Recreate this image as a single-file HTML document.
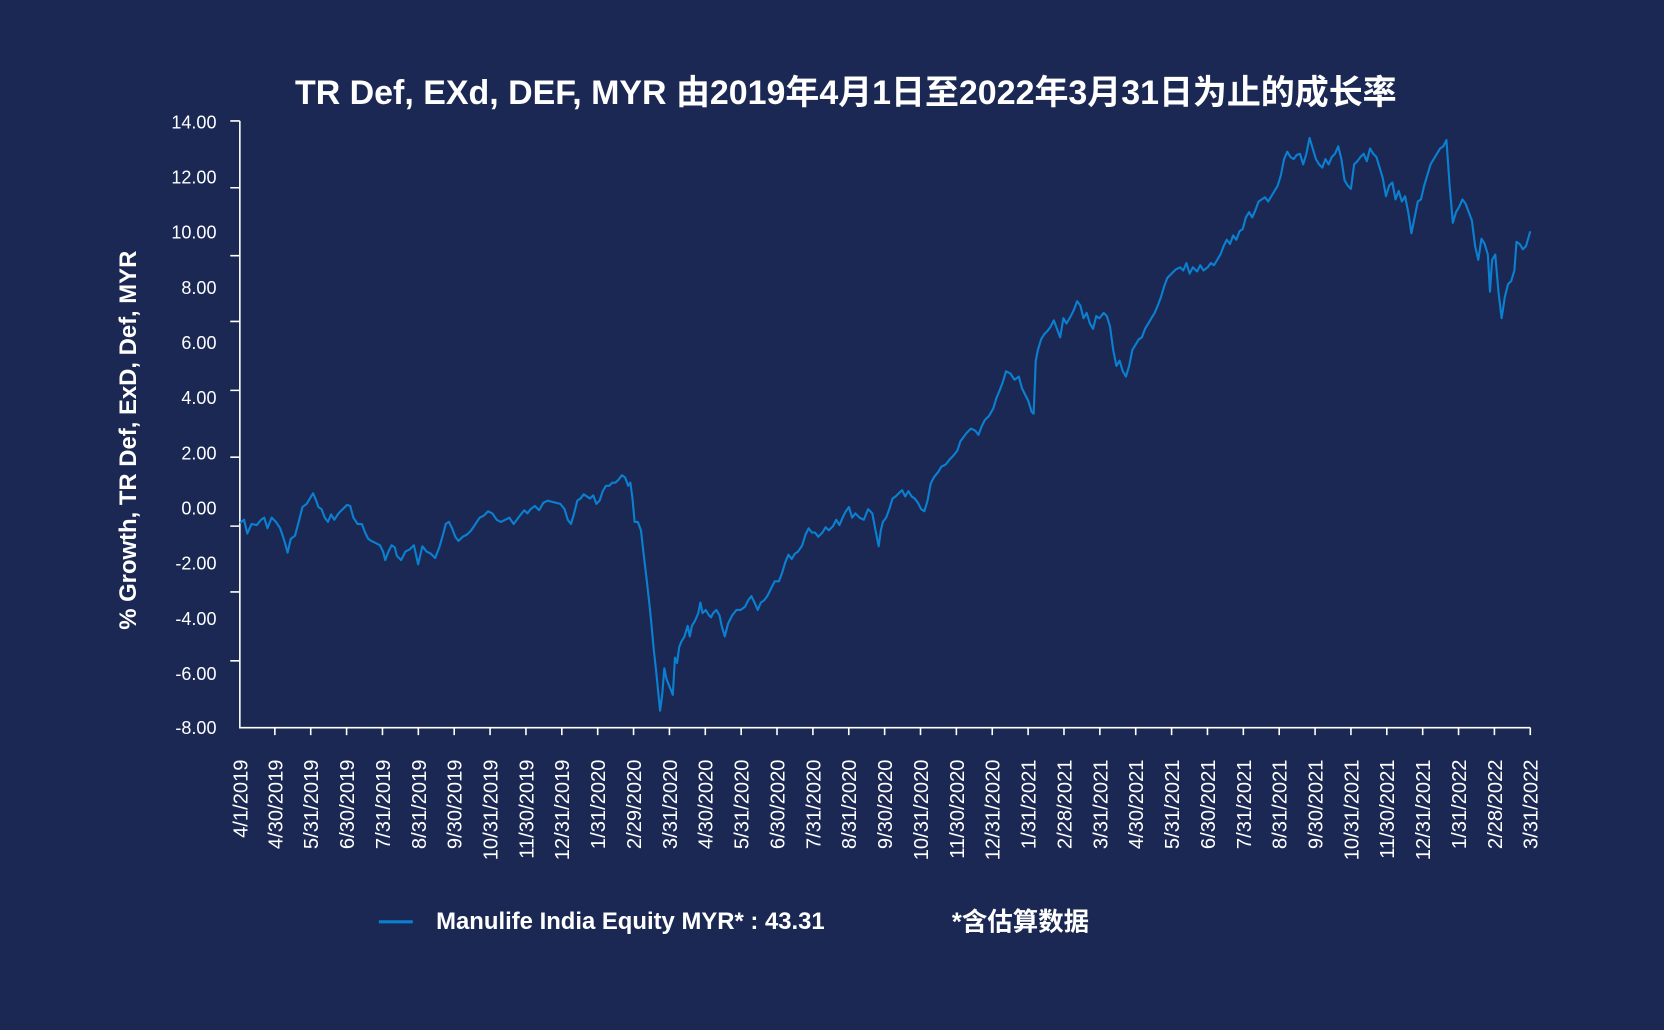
<!DOCTYPE html>
<html><head><meta charset="utf-8"><style>
html,body{margin:0;padding:0;background:#1b2853;}
svg{display:block;}
</style></head><body>
<svg width="1664" height="1030" viewBox="0 0 1568 971" preserveAspectRatio="none" xmlns="http://www.w3.org/2000/svg">
<rect width="1568" height="971" fill="#1b2853"/>
<text x="797" y="98" text-anchor="middle" fill="#fff" font-family="Liberation Sans, Noto Sans CJK SC, sans-serif" font-weight="bold" font-size="32">TR Def, EXd, DEF, MYR 由2019年4月1日至2022年3月31日为止的成长率</text>
<text transform="translate(128,415) rotate(-90)" text-anchor="middle" fill="#fff" font-family="Liberation Sans, sans-serif" font-weight="bold" font-size="22.5">% Growth, TR Def, ExD, Def, MYR</text>
<g fill="#fff" font-family="Liberation Sans, sans-serif" font-size="17" text-anchor="end">
<text x="204" y="121">14.00</text><text x="204" y="173">12.00</text><text x="204" y="225">10.00</text><text x="204" y="277">8.00</text><text x="204" y="329">6.00</text><text x="204" y="381">4.00</text><text x="204" y="433">2.00</text><text x="204" y="485">0.00</text><text x="204" y="537">-2.00</text><text x="204" y="589">-4.00</text><text x="204" y="641">-6.00</text><text x="204" y="692">-8.00</text>
</g>
<g stroke="#fff" stroke-width="1.5" fill="none">
<path d="M226,114 V686 H1442"/>
<path d="M217,114H226M217,177H226M217,241H226M217,303H226M217,368H226M217,431H226M217,496H226M217,558H226M217,623H226"/>
<path d="M259,686v7M292.8,686v7M326.6,686v7M360.4,686v7M394.2,686v7M428,686v7M461.8,686v7M495.6,686v7M529.4,686v7M563.2,686v7M597,686v7M630.8,686v7M664.6,686v7M698.4,686v7M732.2,686v7M766,686v7M799.8,686v7M833.6,686v7M867.4,686v7M901.2,686v7M935,686v7M968.8,686v7M1002.6,686v7M1036.4,686v7M1070.2,686v7M1104,686v7M1137.8,686v7M1171.6,686v7M1205.4,686v7M1239.2,686v7M1273,686v7M1306.8,686v7M1340.6,686v7M1374.4,686v7M1408.2,686v7M1442,686v7"/>
</g>
<g fill="#fff" font-family="Liberation Sans, sans-serif" font-size="19" text-anchor="end">
<text transform="translate(233,716) rotate(-90)">4/1/2019</text>
<text transform="translate(266,716) rotate(-90)">4/30/2019</text>
<text transform="translate(299.8,716) rotate(-90)">5/31/2019</text>
<text transform="translate(333.6,716) rotate(-90)">6/30/2019</text>
<text transform="translate(367.4,716) rotate(-90)">7/31/2019</text>
<text transform="translate(401.2,716) rotate(-90)">8/31/2019</text>
<text transform="translate(435,716) rotate(-90)">9/30/2019</text>
<text transform="translate(468.8,716) rotate(-90)">10/31/2019</text>
<text transform="translate(502.6,716) rotate(-90)">11/30/2019</text>
<text transform="translate(536.4,716) rotate(-90)">12/31/2019</text>
<text transform="translate(570.2,716) rotate(-90)">1/31/2020</text>
<text transform="translate(604,716) rotate(-90)">2/29/2020</text>
<text transform="translate(637.8,716) rotate(-90)">3/31/2020</text>
<text transform="translate(671.6,716) rotate(-90)">4/30/2020</text>
<text transform="translate(705.4,716) rotate(-90)">5/31/2020</text>
<text transform="translate(739.2,716) rotate(-90)">6/30/2020</text>
<text transform="translate(773,716) rotate(-90)">7/31/2020</text>
<text transform="translate(806.8,716) rotate(-90)">8/31/2020</text>
<text transform="translate(840.6,716) rotate(-90)">9/30/2020</text>
<text transform="translate(874.4,716) rotate(-90)">10/31/2020</text>
<text transform="translate(908.2,716) rotate(-90)">11/30/2020</text>
<text transform="translate(942,716) rotate(-90)">12/31/2020</text>
<text transform="translate(975.8,716) rotate(-90)">1/31/2021</text>
<text transform="translate(1009.6,716) rotate(-90)">2/28/2021</text>
<text transform="translate(1043.4,716) rotate(-90)">3/31/2021</text>
<text transform="translate(1077.2,716) rotate(-90)">4/30/2021</text>
<text transform="translate(1111,716) rotate(-90)">5/31/2021</text>
<text transform="translate(1144.8,716) rotate(-90)">6/30/2021</text>
<text transform="translate(1178.6,716) rotate(-90)">7/31/2021</text>
<text transform="translate(1212.4,716) rotate(-90)">8/31/2021</text>
<text transform="translate(1246.2,716) rotate(-90)">9/30/2021</text>
<text transform="translate(1280,716) rotate(-90)">10/31/2021</text>
<text transform="translate(1313.8,716) rotate(-90)">11/30/2021</text>
<text transform="translate(1347.6,716) rotate(-90)">12/31/2021</text>
<text transform="translate(1381.4,716) rotate(-90)">1/31/2022</text>
<text transform="translate(1415.2,716) rotate(-90)">2/28/2022</text>
<text transform="translate(1449,716) rotate(-90)">3/31/2022</text>
</g>
<polyline fill="none" stroke="#0b7fd0" stroke-width="2" stroke-linejoin="round" points="226,493 230,490 233,503 237,494 242,495 246,490 249,488 252,498 256,488 260,492 264,498 268,510 271,521 274,508 278,505 282,490 285,478 289,475 292,470 295,465 298,472 300,478 303,480 306,488 309,492 312,485 315,490 319,484 323,480 327,476 330,477 333,488 337,494 341,494 344,502 347,508 350,510 354,512 358,514 361,520 363,528 366,520 369,514 372,516 374,524 378,528 382,520 386,518 390,514 394,532 398,515 402,520 406,522 410,526 414,516 418,502 420,494 423,492 426,498 429,506 432,510 436,506 440,504 444,500 448,494 452,488 456,486 460,482 464,484 468,490 472,492 476,490 480,488 484,494 487,490 490,486 494,481 497,484 500,480 504,477 508,481 512,474 516,472 520,473 524,474 528,475 532,480 535,490 538,494 541,484 544,472 547,470 550,466 553,468 556,470 559,467 562,475 565,472 568,463 571,458 574,458 577,455 580,455 583,452 586,448 589,450 592,458 594,455 596,470 598,492 601,492 604,500 606,518 608,535 610,552 612,570 614,590 616,612 618,630 620,650 622,670 624,655 626,630 628,640 630,645 632,650 634,655 636,620 638,625 640,610 642,605 645,600 648,590 650,600 652,590 655,585 658,578 660,568 662,578 665,575 668,580 670,582 672,578 675,575 678,580 680,590 683,600 686,588 690,580 694,575 698,575 702,572 705,566 708,562 711,568 714,575 717,568 720,566 723,562 726,556 730,548 734,548 737,540 740,530 743,523 746,527 749,522 752,520 756,514 759,504 762,498 765,502 768,502 771,506 775,502 778,497 781,500 785,496 788,490 791,495 794,488 797,482 800,478 803,488 806,484 810,488 814,490 818,480 822,484 825,500 828,515 830,500 832,492 835,488 838,480 841,470 844,468 847,465 850,462 853,468 856,463 859,468 862,470 865,474 868,480 871,482 874,472 877,456 880,450 884,445 887,440 891,438 895,433 898,430 902,425 905,416 908,412 911,408 915,404 919,406 922,410 925,402 928,396 932,392 936,385 939,375 942,368 945,360 948,350 952,352 956,358 960,355 963,366 966,372 969,378 972,388 974,390 976,340 978,330 981,320 984,315 987,312 990,308 993,302 996,310 999,318 1002,300 1005,305 1009,298 1012,292 1015,284 1018,288 1021,300 1024,295 1027,305 1030,310 1033,298 1036,300 1040,295 1043,298 1046,308 1049,330 1052,345 1055,340 1058,350 1061,355 1064,345 1067,330 1070,325 1073,320 1076,318 1079,310 1082,305 1085,300 1088,295 1091,288 1094,280 1097,270 1100,262 1104,258 1108,254 1112,252 1115,255 1118,248 1121,258 1124,252 1128,256 1131,250 1134,255 1138,252 1141,248 1144,250 1147,245 1150,240 1153,232 1156,226 1159,230 1162,222 1165,226 1168,218 1171,216 1174,205 1177,200 1180,205 1183,198 1186,190 1189,188 1192,186 1195,190 1198,185 1201,180 1204,175 1207,165 1210,150 1213,143 1216,148 1219,150 1222,146 1225,145 1228,155 1231,145 1234,130 1237,140 1240,150 1243,155 1246,158 1249,150 1252,155 1255,148 1258,145 1261,138 1264,150 1267,170 1270,175 1273,178 1276,155 1279,152 1282,148 1285,145 1288,152 1291,140 1294,145 1297,148 1300,158 1303,168 1306,185 1309,175 1312,172 1315,188 1318,180 1321,190 1324,185 1327,200 1330,220 1333,205 1336,190 1339,188 1342,175 1345,165 1348,155 1351,150 1354,145 1357,140 1360,138 1363,132 1366,175 1369,210 1372,200 1375,195 1378,188 1381,192 1384,200 1387,208 1390,232 1393,245 1396,225 1399,230 1402,240 1404,275 1406,245 1409,240 1412,275 1415,300 1418,280 1421,268 1424,265 1427,255 1429,228 1432,230 1435,235 1438,232 1442,218"/>
<line x1="357" y1="869" x2="389" y2="869" stroke="#0b7fd0" stroke-width="3"/>
<text x="411" y="876" fill="#fff" font-family="Liberation Sans, sans-serif" font-weight="bold" font-size="22.5">Manulife India Equity MYR* : 43.31</text>
<text x="897" y="877" fill="#fff" font-family="Liberation Sans, Noto Sans CJK SC, sans-serif" font-weight="bold" font-size="24">*含估算数据</text>
</svg>
</body></html>
